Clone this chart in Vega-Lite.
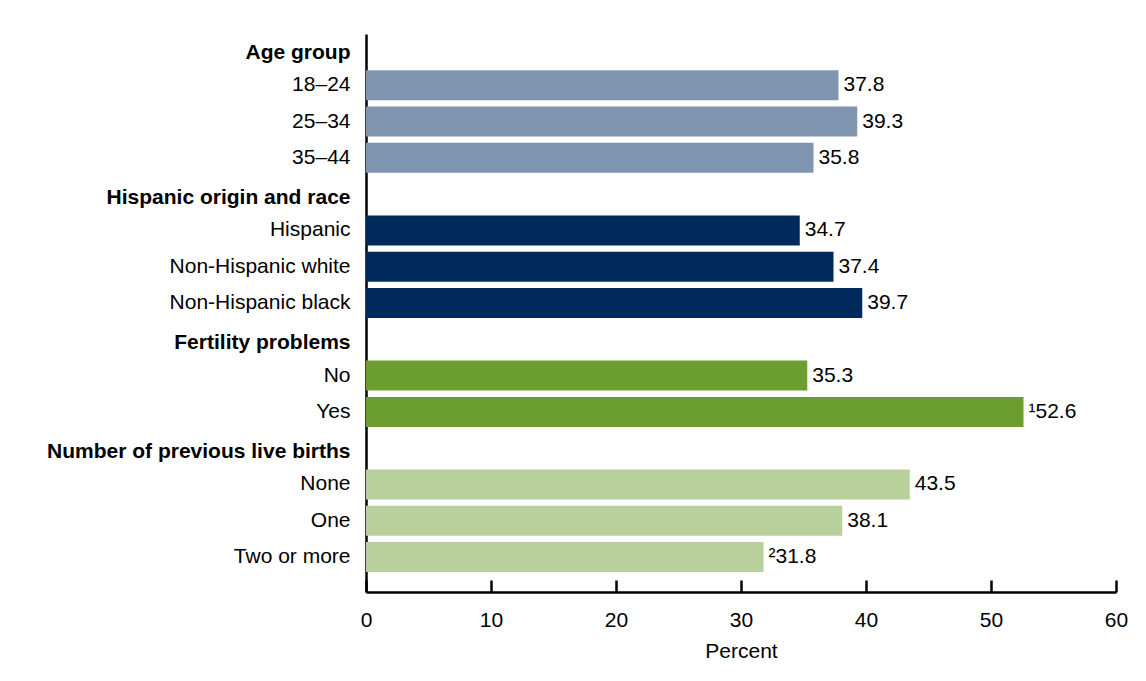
{
  "$schema": "https://vega.github.io/schema/vega-lite/v6.json",
  "width": 750,
  "height": 558,
  "padding": {"left": 46, "top": 34, "right": 5, "bottom": 5},
  "autosize": {"type": "pad"},
  "background": "white",
  "config": {"view": {"stroke": null}, "font": "Liberation Sans"},
  "data": {
    "values": [
      {"label": "Age group", "group": "Age group"},
      {"label": "18–24", "group": "Age group", "value": 37.8, "text": "37.8"},
      {"label": "25–34", "group": "Age group", "value": 39.3, "text": "39.3"},
      {"label": "35–44", "group": "Age group", "value": 35.8, "text": "35.8"},
      {"label": "Hispanic origin and race", "group": "Hispanic origin and race"},
      {"label": "Hispanic", "group": "Hispanic origin and race", "value": 34.7, "text": "34.7"},
      {"label": "Non-Hispanic white", "group": "Hispanic origin and race", "value": 37.4, "text": "37.4"},
      {"label": "Non-Hispanic black", "group": "Hispanic origin and race", "value": 39.7, "text": "39.7"},
      {"label": "Fertility problems", "group": "Fertility problems"},
      {"label": "No", "group": "Fertility problems", "value": 35.3, "text": "35.3"},
      {"label": "Yes", "group": "Fertility problems", "value": 52.6, "text": "¹52.6"},
      {"label": "Number of previous live births", "group": "Number of previous live births"},
      {"label": "None", "group": "Number of previous live births", "value": 43.5, "text": "43.5"},
      {"label": "One", "group": "Number of previous live births", "value": 38.1, "text": "38.1"},
      {"label": "Two or more", "group": "Number of previous live births", "value": 31.8, "text": "²31.8"}
    ]
  },
  "encoding": {
    "y": {
      "field": "label",
      "type": "nominal",
      "scale": {
        "domain": ["Age group", "18–24", "25–34", "35–44", "Hispanic origin and race", "Hispanic", "Non-Hispanic white", "Non-Hispanic black", "Fertility problems", "No", "Yes", "Number of previous live births", "None", "One", "Two or more"],
        "paddingInner": 0.174,
        "paddingOuter": 0.275,
        "align": 0
      },
      "axis": {
        "title": null,
        "domain": true,
        "domainColor": "black",
        "domainWidth": 2.5,
        "ticks": false,
        "labelPadding": 16,
        "labelFontSize": 21,
        "labelColor": "black",
        "labelLimit": 0,
        "labelFontWeight": {"condition": {"test": "indexof(['Age group','Hispanic origin and race','Fertility problems','Number of previous live births'], datum.value) >= 0", "value": "bold"}, "value": "normal"},
        "labelOffset": {"condition": {"test": "indexof(['Age group','Hispanic origin and race','Fertility problems','Number of previous live births'], datum.value) >= 0", "value": 4}, "value": 0}
      }
    }
  },
  "layer": [
    {
      "mark": {"type": "bar"},
      "encoding": {
        "x": {
          "field": "value",
          "type": "quantitative",
          "scale": {"domain": [0, 60], "nice": false},
          "axis": {
            "title": "Percent",
            "values": [0, 10, 20, 30, 40, 50, 60],
            "grid": false,
            "labelFlush": false,
            "domainColor": "black",
            "domainWidth": 2.5,
            "tickColor": "black",
            "tickWidth": 2.5,
            "tickSize": -12,
            "labelPadding": 29,
            "labelFontSize": 21,
            "labelColor": "black",
            "titleFontSize": 21,
            "titleFontWeight": "normal",
            "titleColor": "black",
            "titlePadding": 10
          }
        },
        "color": {
          "field": "group",
          "type": "nominal",
          "scale": {
            "domain": ["Age group", "Hispanic origin and race", "Fertility problems", "Number of previous live births"],
            "range": ["#8095AF", "#002A5C", "#6C9D30", "#B8D09B"]
          },
          "legend": null
        }
      }
    },
    {
      "mark": {"type": "text", "align": "left", "baseline": "middle", "dx": 5, "fontSize": 21, "color": "black"},
      "encoding": {
        "x": {"field": "value", "type": "quantitative"},
        "text": {"field": "text"}
      }
    }
  ]
}
